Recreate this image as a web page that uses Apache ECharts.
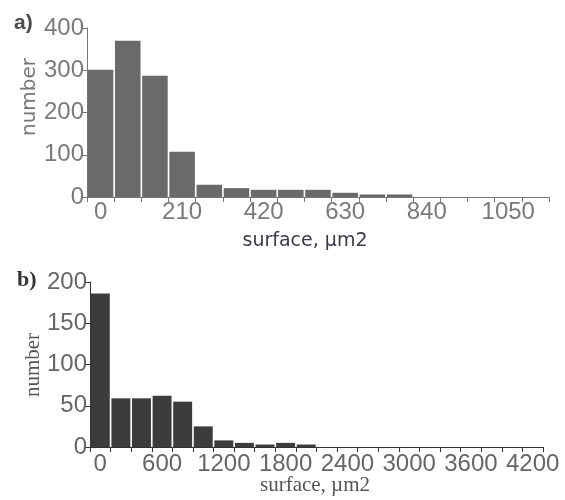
<!DOCTYPE html>
<html>
<head>
<meta charset="utf-8">
<script src="https://cdn.jsdelivr.net/npm/echarts@6/dist/echarts.min.js"></script>
<style>
  html, body { margin: 0; padding: 0; background: #fff; }
  #chart { width: 565px; height: 500px; }
</style>
</head>
<body>
<div id="chart"></div>
<script>
// Histogram a): bins of 70 µm2
const binsA = ['0', '70', '140', '210', '280', '350', '420', '490', '560', '630', '700', '770', '840', '910', '980', '1050', '1120'];
const countsA = [301, 370, 287, 107, 29, 21, 17, 17, 17, 10, 6, 6, 0, 0, 0, 0, 0];

// Histogram b): bins of 200 µm2
const binsB = ['0', '200', '400', '600', '800', '1000', '1200', '1400', '1600', '1800', '2000', '2200',
               '2400', '2600', '2800', '3000', '3200', '3400', '3600', '3800', '4000', '4200'];
const countsB = [186, 59, 59, 62, 55, 25, 8, 5, 3, 5, 3, 0, 0, 0, 0, 0, 0, 0, 0, 0, 0, 0];

const tickFont = 'Liberation Sans';
const tickSize = 24;

const chart = echarts.init(document.getElementById('chart'), null, { renderer: 'canvas' });

function xAxisFor(gridIndex, data, lineColor, labelColor, margin) {
  return {
    type: 'category',
    gridIndex: gridIndex,
    data: data,
    boundaryGap: true,
    axisLine: { lineStyle: { color: lineColor, width: 1 } },
    axisTick: { show: true, interval: 0, length: 5, lineStyle: { color: lineColor } },
    axisLabel: { interval: 2, color: labelColor, fontFamily: tickFont, fontSize: tickSize, margin: margin },
    splitLine: { show: false }
  };
}

function yAxisFor(gridIndex, max, step, lineColor, labelColor) {
  return {
    type: 'value',
    gridIndex: gridIndex,
    min: 0,
    max: max,
    interval: step,
    axisLine: { show: true, lineStyle: { color: lineColor, width: 1 } },
    axisTick: { show: true, length: 5, lineStyle: { color: lineColor } },
    axisLabel: { color: labelColor, fontFamily: tickFont, fontSize: tickSize, margin: 3 },
    splitLine: { show: false }
  };
}

chart.setOption({
  animation: false,
  backgroundColor: '#ffffff',
  grid: [
    { left: 87, right: 16, top: 28, height: 169 },
    { left: 90, right: 22, top: 282, height: 165 }
  ],
  xAxis: [
    xAxisFor(0, binsA, '#777777', '#7a7a7a', 3),
    xAxisFor(1, binsB, '#333333', '#666666', 5)
  ],
  yAxis: [
    yAxisFor(0, 400, 100, '#777777', '#7a7a7a'),
    yAxisFor(1, 200, 50, '#333333', '#666666')
  ],
  series: [
    {
      type: 'bar',
      xAxisIndex: 0,
      yAxisIndex: 0,
      data: countsA,
      barCategoryGap: '6%',
      itemStyle: { color: '#6a6a6a' }
    },
    {
      type: 'bar',
      xAxisIndex: 1,
      yAxisIndex: 1,
      data: countsB,
      barCategoryGap: '8%',
      itemStyle: { color: '#3c3c3c' }
    }
  ],
  graphic: [
    {
      type: 'text', left: 14, top: 13,
      style: { text: 'a)', font: 'bold 21px "Liberation Sans"', fill: '#4a4a4a' }
    },
    {
      type: 'text', x: 30, y: 97, rotation: Math.PI / 2,
      style: { text: 'number', font: '20px "DejaVu Sans"', fill: '#777777',
               align: 'center', verticalAlign: 'middle' }
    },
    {
      type: 'text', x: 305, y: 241,
      style: { text: 'surface, µm2', font: '19px "DejaVu Sans"', fill: '#3a3a4a',
               align: 'center', verticalAlign: 'middle' }
    },
    {
      type: 'text', left: 17, top: 269,
      style: { text: 'b)', font: 'bold 22px "Liberation Serif"', fill: '#333333' }
    },
    {
      type: 'text', x: 33, y: 365, rotation: Math.PI / 2,
      style: { text: 'number', font: '21px "Liberation Serif"', fill: '#555555',
               align: 'center', verticalAlign: 'middle' }
    },
    {
      type: 'text', x: 315, y: 485,
      style: { text: 'surface, µm2', font: '21px "Liberation Serif"', fill: '#555555',
               align: 'center', verticalAlign: 'middle' }
    }
  ]
});
</script>
</body>
</html>
